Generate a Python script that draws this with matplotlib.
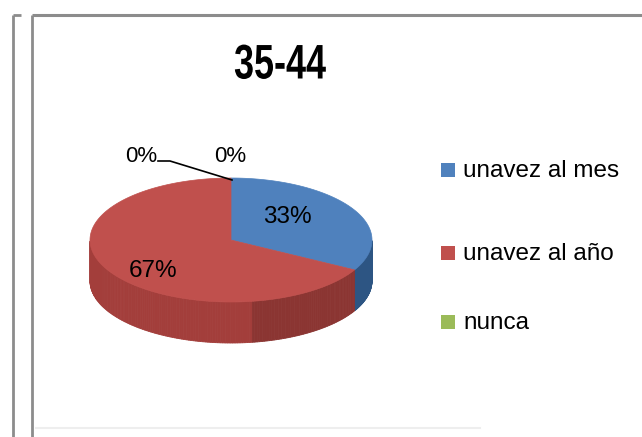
import numpy as np
import matplotlib
matplotlib.use("Agg")
import matplotlib.pyplot as plt
from matplotlib.patches import Polygon, Rectangle
from matplotlib.patheffects import AbstractPathEffect
from matplotlib.transforms import Affine2D

# Survey answers for the 35-44 age group
title = "35-44"
categories = ["unavez al mes", "unavez al año", "nunca"]
shares = [33, 67, 0]
labels = ["33%", "67%", "0%"]
colors = ["#4F81BD", "#C0504D", "#9BBB59"]
side_colors = ["#35649A", "#A33E3B", "#7F9A45"]

W, H = 642, 437
fig = plt.figure(figsize=(W / 100, H / 100), dpi=100)
ax = fig.add_axes([0, 0, 1, 1])
ax.set_xlim(0, W)
ax.set_ylim(H, 0)
ax.axis("off")

sans = "Liberation Sans"


class Condense(AbstractPathEffect):
    """Squeeze glyph outlines horizontally about a fixed display x."""

    def __init__(self, sx, x0):
        super().__init__()
        self.sx, self.x0 = sx, x0

    def draw_path(self, renderer, gc, tpath, affine, rgbFace=None):
        squeeze = Affine2D().translate(-self.x0, 0).scale(self.sx, 1).translate(self.x0, 0)
        renderer.draw_path(gc, tpath, affine + squeeze, rgbFace)


# frame lines
ax.plot([13, 13], [15, H], color="#8c8c8c", lw=2, solid_capstyle="butt")
ax.plot([13, 21], [15, 15], color="#8c8c8c", lw=2, solid_capstyle="butt")
ax.plot([32, 32], [15, H], color="#8c8c8c", lw=2, solid_capstyle="butt")
ax.plot([32, W], [15, 15], color="#8c8c8c", lw=2.2, solid_capstyle="butt")
ax.plot([36, 480], [428, 428], color="#eeeeee", lw=1.5)

# 3D pie geometry (pixel space)
cx, cy, a, b, depth = 231, 240, 141, 62, 41


def pt(t):
    return cx + a * np.cos(t), cy - b * np.sin(t)


total = sum(shares)
start = np.deg2rad(90.0)
spans = []
for v in shares:
    ang = 2 * np.pi * v / total
    spans.append((start - ang, start))
    start -= ang

# side walls: only the front half (sin t < 0) is visible
for (t0, t1), sc in zip(spans, side_colors):
    if t1 - t0 <= 0:
        continue
    ts = np.linspace(t0, t1, 240)
    ts = np.mod(ts + np.pi, 2 * np.pi) - np.pi
    mask = np.sin(ts) <= 0
    if not mask.any():
        continue
    ts = np.sort(ts[mask])
    for i in range(len(ts) - 1):
        ta, tb = ts[i], ts[i + 1]
        if tb - ta > 0.1:
            continue
        xa, ya = pt(ta)
        xb, yb = pt(tb)
        shade = 1.0 if np.cos(ta) < 0.15 else 0.85
        col = np.clip(np.array(matplotlib.colors.to_rgb(sc)) * shade, 0, 1)
        ax.add_patch(Polygon([[xa, ya], [xb, yb], [xb, yb + depth], [xa, ya + depth]],
                             closed=True, fc=col, ec=col, lw=0.6, zorder=2))

# top face
for (t0, t1), c in zip(spans, colors):
    if t1 - t0 <= 0:
        continue
    ts = np.linspace(t0, t1, 200)
    xs, ys = pt(ts)
    verts = [[cx, cy]] + list(zip(xs, ys))
    ax.add_patch(Polygon(verts, closed=True, fc=c, ec=c, lw=0.5, zorder=3))

# percentage labels
ax.text(287, 217, labels[0], fontsize=17.5, family=sans, ha="center", va="center", zorder=5)
ax.text(153, 271, labels[1], fontsize=17.5, family=sans, ha="center", va="center", zorder=5)
ax.text(141, 157, labels[2], fontsize=16, family=sans, ha="center", va="center", zorder=5)
ax.text(230, 157, labels[2], fontsize=16, family=sans, ha="center", va="center", zorder=5)
ax.plot([158, 170, 232], [161, 161, 180], color="black", lw=1.2, zorder=5)

# title, condensed
tx = 280
ax.text(tx, 66, title, fontsize=35, family=sans, weight="bold",
        ha="center", va="center", path_effects=[Condense(0.74, tx)])

# legend
ly = [170, 253, 322]
for y, c, name in zip(ly, colors, categories):
    ax.add_patch(Rectangle((441, y - 7), 14, 14, fc=c, ec="none"))
    ax.text(463, y + 1, name, fontsize=17.5, family=sans, ha="left", va="center")

fig.savefig("out.png", dpi=100)
